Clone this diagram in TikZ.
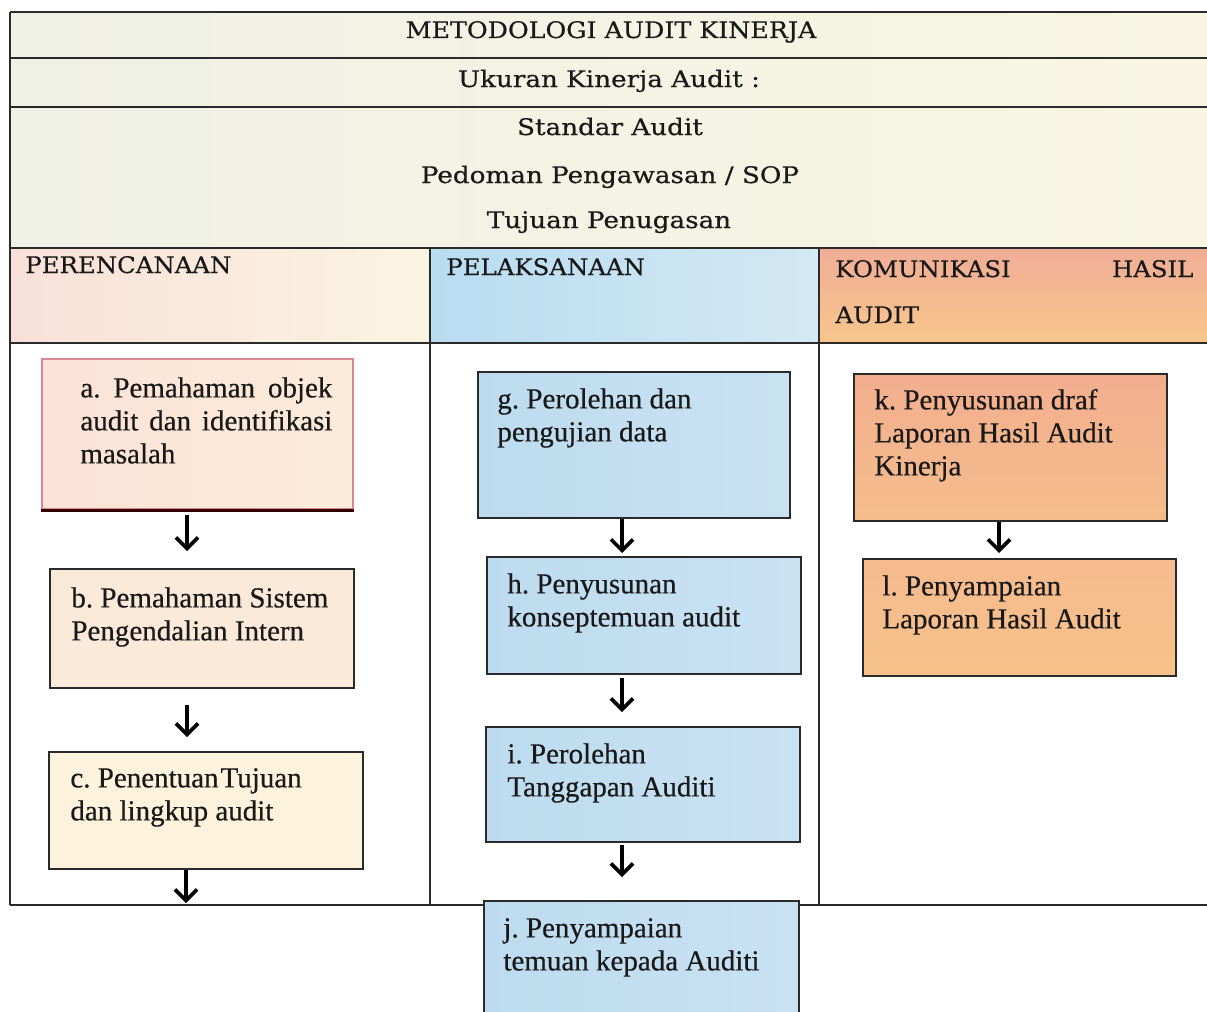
\documentclass[tikz,border=0pt]{standalone}
\usepackage{fontspec}
\setmainfont{Liberation Serif}[FakeBold=0.4]
\newfontfamily\hdrfont[FakeStretch=1.07,FakeBold=0.5]{DejaVu Serif}
\newfontfamily\hdrtitle[FakeStretch=1.11,FakeBold=0.5]{DejaVu Serif}
\newfontfamily\hdrwide[FakeStretch=1.15,FakeBold=0.5]{DejaVu Serif}
\newfontfamily\boxfont[FakeBold=0.45]{Liberation Serif}
\usetikzlibrary{arrows.meta}
\definecolor{hdrL}{HTML}{EFF0E6}
\definecolor{hdrR}{HTML}{F8F6E2}
\definecolor{perL}{HTML}{F8E0D8}
\definecolor{perR}{HTML}{FBF4E2}
\definecolor{pelL}{HTML}{B9DCF1}
\definecolor{pelR}{HTML}{D3E9F3}
\definecolor{komT}{HTML}{F0AD96}
\definecolor{komB}{HTML}{F7C68C}
\definecolor{aFill}{HTML}{FBE3D7}
\definecolor{aFillR}{HTML}{FCEBDA}
\definecolor{aBorder}{HTML}{D98797}
\definecolor{bFill}{HTML}{FBE9D9}
\definecolor{cFill}{HTML}{FDF2DC}
\definecolor{blueL}{HTML}{BDDBEF}
\definecolor{blueR}{HTML}{C8E2F2}
\definecolor{kT}{HTML}{F2AE8E}
\definecolor{kB}{HTML}{F5BD8C}
\definecolor{lT}{HTML}{F5BA8E}
\definecolor{lB}{HTML}{F7C28A}
\definecolor{lineC}{HTML}{2A2A2A}
\begin{document}
\frenchspacing
\begin{tikzpicture}[x=0.5pt,y=-0.5pt,
  tbl/.style={line width=1pt, draw=lineC},
  bx/.style={draw=lineC, line width=1.1pt, rectangle, inner sep=0pt, anchor=north west},
  tx/.style={anchor=north west, inner sep=0pt, align=left, text=black!90, font=\boxfont\fontsize{14.5pt}{16.5pt}\selectfont},
  hd/.style={inner sep=0pt, text=black!90, font=\hdrfont\fontsize{11.4pt}{13pt}\selectfont},
  hdt/.style={hd, font=\hdrtitle\fontsize{11.4pt}{13pt}\selectfont},
  hdw/.style={hd, font=\hdrwide\fontsize{11.4pt}{13pt}\selectfont},
  arr/.style={line width=1.8pt, draw=black, -{Straight Barb[length=5.5pt,width=11pt]}}]
\useasboundingbox (0,0) rectangle (1207,1012);
\fill[white] (0,0) rectangle (1207,1012);
% header fills
\fill[left color=hdrL, right color=hdrR] (10,12) rectangle (1207,248);
\fill[left color=perL, right color=perR] (10,248) rectangle (430,343);
\fill[left color=pelL, right color=pelR] (430,248) rectangle (819,343);
\fill[top color=komT, bottom color=komB] (819,248) rectangle (1207,343);
% table lines
\draw[tbl] (10,12) -- (1207,12);
\draw[tbl] (10,58) -- (1207,58);
\draw[tbl] (10,107) -- (1207,107);
\draw[tbl] (10,248) -- (1207,248);
\draw[tbl] (10,343) -- (1207,343);
\draw[tbl] (10,905) -- (1207,905);
\draw[tbl] (10,12) -- (10,905);
\draw[tbl] (430,248) -- (430,905);
\draw[tbl] (819,248) -- (819,905);
% header texts
\node[hdt, anchor=base] (title) at (611,38) {METODOLOGI AUDIT KINERJA};
\node[hdw, anchor=base] (ukuran) at (609,87) {Ukuran Kinerja Audit :};
\node[hdw, anchor=base] (standar) at (610,135) {Standar Audit};
\node[hdw, anchor=base] (pedoman) at (610,183) {Pedoman Pengawasan / SOP};
\node[hdw, anchor=base] (tujuan) at (609,228) {Tujuan Penugasan};
\node[hd, anchor=base west] (perenc) at (25,273) {PERENCANAAN};
\node[hd, anchor=base west] (pelak) at (446,275) {PELAKSANAAN};
\node[hd, anchor=base west] (komun) at (835,277) {\makebox[179pt][s]{KOMUNIKASI HASIL}};
\node[hd, anchor=base west] (auditk) at (835,323) {AUDIT};
% boxes
\node[bx, draw=aBorder, left color=aFill, right color=aFillR, minimum width=155.5pt, minimum height=75pt] (a) at (41,358) {};
\draw[line width=1.7pt, draw=black!80!red] (a.south west) -- (a.south east);
\node[bx, fill=bFill, minimum width=152pt, minimum height=59.5pt] (b) at (49,568) {};
\node[bx, fill=cFill, minimum width=157pt, minimum height=58.5pt] (c) at (48,751) {};
\node[bx, left color=blueL, right color=blueR, minimum width=156pt, minimum height=73pt] (g) at (477,371) {};
\node[bx, left color=blueL, right color=blueR, minimum width=157pt, minimum height=58.5pt] (h) at (486,556) {};
\node[bx, left color=blueL, right color=blueR, minimum width=157pt, minimum height=57.5pt] (i) at (485,726) {};
\node[bx, left color=blueL, right color=blueR, minimum width=157.5pt, minimum height=65pt] (j) at (483,900) {};
\node[bx, top color=kT, bottom color=kB, minimum width=156.5pt, minimum height=73.5pt] (k) at (853,373) {};
\node[bx, top color=lT, bottom color=lB, minimum width=156.5pt, minimum height=58.5pt] (l) at (862,558) {};
% box texts
\node[tx] (ta) at (80,375) {\rule{0pt}{11pt}\makebox[126pt][s]{a. Pemahaman objek}\\\makebox[126pt][s]{audit dan identifikasi}\\masalah};
\node[tx] (tb) at (71,585) {\rule{0pt}{11pt}b. Pemahaman Sistem\\Pengendalian Intern};
\node[tx] (tc) at (70,765) {\rule{0pt}{11pt}c. Penentuan\kern1pt Tujuan\\dan lingkup audit};
\node[tx] (tg) at (497,386) {\rule{0pt}{11pt}g. Perolehan dan\\pengujian data};
\node[tx] (th) at (507,571) {\rule{0pt}{11pt}h. Penyusunan\\konseptemuan audit};
\node[tx] (ti) at (507,741) {\rule{0pt}{11pt}i. Perolehan\\Tanggapan Auditi};
\node[tx] (tj) at (503,915) {\rule{0pt}{11pt}j. Penyampaian\\temuan kepada Auditi};
\node[tx] (tk) at (874,387) {\rule{0pt}{11pt}k. Penyusunan draf\\Laporan Hasil Audit\\Kinerja};
\node[tx] (tl) at (882,573) {\rule{0pt}{11pt}l. Penyampaian\\Laporan Hasil Audit};
% arrows
\coordinate (xa) at (187,0);
\coordinate (xg) at (622,0);
\coordinate (xk) at (999,0);
\coordinate (cend) at (186,903);
\draw[arr, shorten <=2.5pt, shorten >=8.5pt] (a.south -| xa) -- (b.north -| xa);
\draw[arr, shorten <=8pt, shorten >=7pt] (b.south -| xa) -- (c.north -| xa);
\draw[arr] (c.south -| cend) -- (cend);
\draw[arr, shorten >=1.5pt] (g.south -| xg) -- (h.north -| xg);
\draw[arr, shorten <=1.5pt, shorten >=7pt] (h.south -| xg) -- (i.north -| xg);
\draw[arr, shorten <=1pt, shorten >=11.5pt] (i.south -| xg) -- (j.north -| xg);
\draw[arr, shorten >=2.5pt] (k.south -| xk) -- (l.north -| xk);
\end{tikzpicture}
\end{document}
